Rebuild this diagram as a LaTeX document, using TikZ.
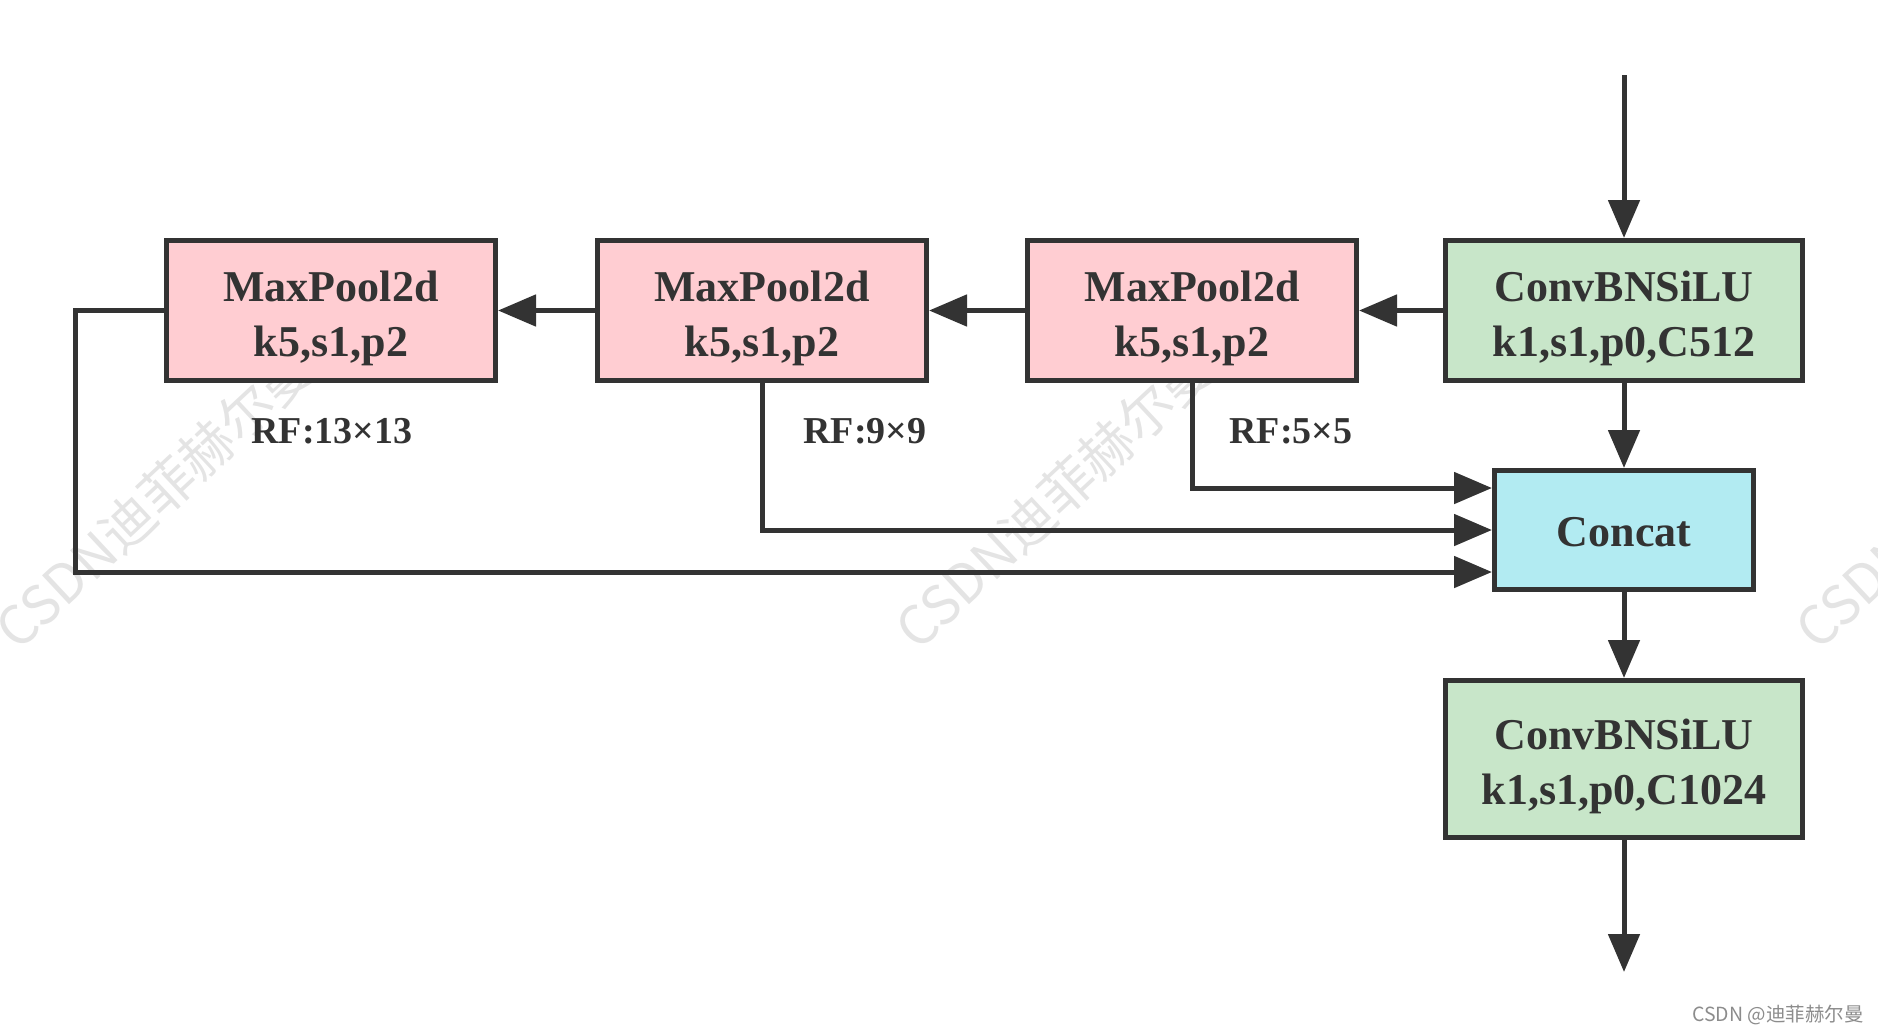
\documentclass[tikz,border=0pt]{standalone}
\usepackage{fontspec}
\setmainfont{Liberation Serif}
\newfontfamily\cjkwm{Noto Sans CJK SC}
\usetikzlibrary{arrows.meta,positioning,calc}
\definecolor{ink}{HTML}{333333}
\definecolor{poolfill}{HTML}{FFCDD2}
\definecolor{convfill}{HTML}{C8E6C9}
\definecolor{catfill}{HTML}{B2EBF2}
\definecolor{wmgray}{HTML}{E4E4E4}
\definecolor{sig}{HTML}{8C8C8C}
\tikzset{
  blk/.style={draw=ink, line width=5pt, text=ink, align=center, inner sep=0pt,
    font=\fontsize{44}{55}\selectfont\bfseries},
  twoline/.style={text height=96pt, text depth=5pt},
  poolbox/.style={blk, twoline, fill=poolfill, minimum width=329pt, minimum height=140pt},
  convbox/.style={blk, twoline, fill=convfill, minimum width=357pt},
  catbox/.style={blk, fill=catfill, minimum width=259pt, minimum height=119pt,
    text height=32pt, text depth=0pt},
  rflabel/.style={text=ink, font=\fontsize{38}{44}\selectfont\bfseries, inner sep=0pt},
  arr/.style={draw=ink, line width=5pt, -{Triangle[length=38pt,width=31pt]}},
  wmark/.style={text=wmgray, font=\cjkwm\fontsize{54}{60}\selectfont, rotate=43, anchor=base west, inner sep=0pt},
}
\begin{document}
\begin{tikzpicture}[x=1pt,y=-1pt]
\useasboundingbox (0,0) rectangle (1878,1034);
% faint diagonal watermarks (behind everything)
\begin{scope}
  \clip (0,0) rectangle (1878,1034);
  \node[wmark] (wm1) at (18,653) {CSDN迪菲赫尔曼};
  \node[wmark] (wm2) at (918,653) {CSDN迪菲赫尔曼};
  \node[wmark] (wm3) at (1818,653) {CSDN迪菲赫尔曼};
\end{scope}
% boxes
\node[convbox, minimum height=140pt] (c1) at (1624,310.5) {ConvBNSiLU\\k1,s1,p0,C512};
\node[poolbox] (p3) at (1192,310.5) {MaxPool2d\\k5,s1,p2};
\node[poolbox] (p2) at (762,310.5) {MaxPool2d\\k5,s1,p2};
\node[poolbox] (p1) at (331,310.5) {MaxPool2d\\k5,s1,p2};
\node[catbox] (cat) at (1624,530) {Concat};
\node[convbox, minimum height=157pt] (c2) at (1624,759) {ConvBNSiLU\\k1,s1,p0,C1024};
% labels
\node[rflabel] (rf1) at (332,431) {RF:13×13};
\node[rflabel] (rf2) at (865,431) {RF:9×9};
\node[rflabel] (rf3) at (1291,431) {RF:5×5};
% endpoints
\coordinate (in) at (1624,75);
\coordinate (out) at (1624,972);
\coordinate (loop) at (75,310.5);
% connectors
\draw[arr] (in) -- (c1.north);
\draw[arr] (c1.west) -- (p3.east);
\draw[arr] (p3.west) -- (p2.east);
\draw[arr] (p2.west) -- (p1.east);
\draw[arr] (c1.south) -- (cat.north);
\draw[arr] (p3.south) |- ([yshift=42pt]cat.west);
\draw[arr] (p2.south) |- (cat.west);
\draw[arr] (p1.west) -- (loop) |- ([yshift=-42pt]cat.west);
\draw[arr] (cat.south) -- (c2.north);
\draw[arr] (c2.south) -- (out);
% signature
\node[text=sig, font=\cjkwm\fontsize{19.5}{22}\selectfont, inner sep=0pt] (sigtext) at (1778,1015) {CSDN @迪菲赫尔曼};
\end{tikzpicture}
\end{document}
